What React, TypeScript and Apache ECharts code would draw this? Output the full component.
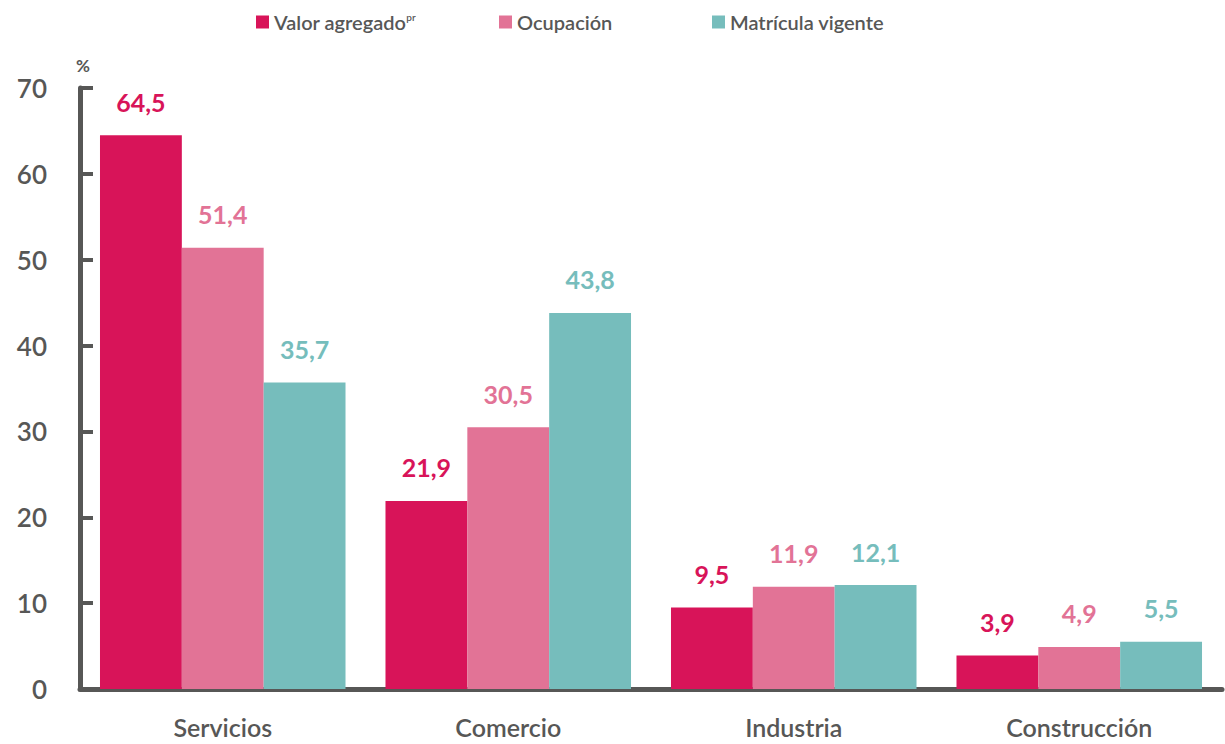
import React, { useEffect, useRef } from "react";
import * as echarts from "echarts";

const categories = ["Servicios", "Comercio", "Industria", "Construcción"];
const valorAgregado = [64.5, 21.9, 9.5, 3.9];
const ocupacion = [51.4, 30.5, 11.9, 4.9];
const matricula = [35.7, 43.8, 12.1, 5.5];
const seriesNames = ["Valor agregado", "Ocupación", "Matrícula vigente"];
const colors = ["#D81459", "#E27396", "#76BDBC"];
const yTicks = [0, 10, 20, 30, 40, 50, 60, 70];
const legendLefts = [251, 494, 707];

const GRAY = "#575756";
const FONT = "Lato";

export default function App() {
  const ref = useRef<HTMLDivElement>(null);
  useEffect(() => {
    const chart = echarts.init(ref.current!, null, { renderer: "svg" });
    const fmt = (p: any) => String(p.value).replace(".", ",");
    const mk = (name: string, data: number[], color: string) => ({
      name,
      type: "bar",
      data,
      itemStyle: { color },
      barGap: "0%",
      barCategoryGap: "14%",
      label: {
        show: true,
        position: "top",
        distance: 21,
        formatter: fmt,
        color,
        fontFamily: FONT,
        fontWeight: "bold",
        fontSize: 25,
      },
    });
    const legendText = {
      color: GRAY,
      fontFamily: FONT,
      rich: {
        a: { fontSize: 20, fontWeight: 600, color: GRAY, fontFamily: FONT },
        s: {
          fontSize: 10,
          fontWeight: 600,
          color: GRAY,
          fontFamily: FONT,
          verticalAlign: "top",
          padding: [0, 0, 8, 0],
        },
      },
    };
    chart.setOption({
      animation: false,
      textStyle: { fontFamily: FONT },
      legend: seriesNames.map((n, i) => ({
        top: 7,
        left: legendLefts[i],
        itemWidth: 13,
        itemHeight: 13,
        itemGap: 8,
        icon: "rect",
        data: [n],
        formatter: (nm: string) =>
          nm === "Valor agregado" ? "{a|Valor agregado}{s|pr}" : "{a|" + nm + "}",
        textStyle: legendText,
      })),
      grid: { left: 80, right: 3, top: 88, bottom: 55, containLabel: false },
      graphic: [
        {
          type: "text",
          left: 76,
          top: 57,
          style: { text: "%", fontSize: 17, fontWeight: "bold", fill: GRAY, fontFamily: FONT },
        },
      ],
      xAxis: {
        type: "category",
        data: categories,
        axisLine: { lineStyle: { color: GRAY, width: 5 } },
        axisTick: { inside: true, length: 7, lineStyle: { color: GRAY, width: 5 } },
        axisLabel: {
          color: GRAY,
          fontSize: 25,
          fontWeight: 600,
          fontFamily: FONT,
          margin: 25,
        },
      },
      yAxis: {
        type: "value",
        min: yTicks[0],
        max: yTicks[yTicks.length - 1],
        interval: 10,
        splitLine: { show: false },
        axisLine: { show: true, lineStyle: { color: GRAY, width: 5 } },
        axisTick: { show: true, inside: true, length: 13, lineStyle: { color: GRAY, width: 4 } },
        axisLabel: {
          color: GRAY,
          fontSize: 26,
          fontWeight: 600,
          fontFamily: FONT,
          margin: 33,
        },
      },
      series: [
        mk(seriesNames[0], valorAgregado, colors[0]),
        mk(seriesNames[1], ocupacion, colors[1]),
        mk(seriesNames[2], matricula, colors[2]),
      ],
    });
    return () => chart.dispose();
  }, []);
  return (
    <div
      ref={ref}
      style={{ position: "fixed", left: 0, top: 0, width: 1225, height: 744, background: "#fff" }}
    />
  );
}
